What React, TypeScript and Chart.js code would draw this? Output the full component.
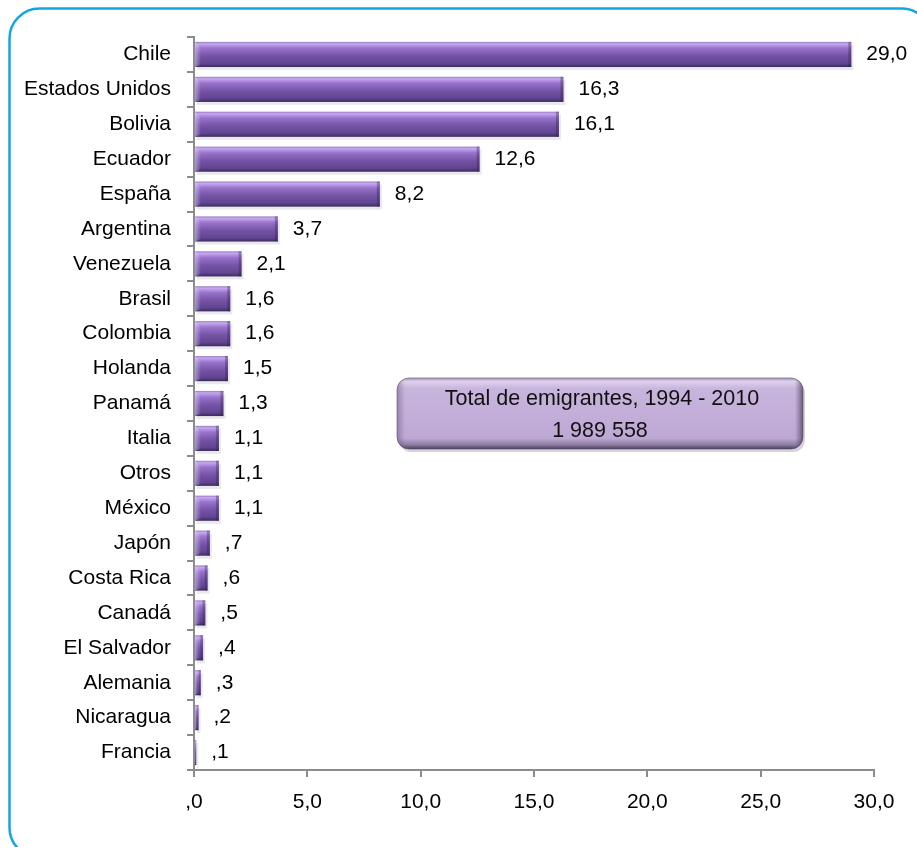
import React, { useEffect, useRef } from "react";
import { Chart, registerables } from "chart.js";

Chart.register(...registerables);

const categories = [
  "Chile", "Estados Unidos", "Bolivia", "Ecuador", "España", "Argentina",
  "Venezuela", "Brasil", "Colombia", "Holanda", "Panamá", "Italia", "Otros",
  "México", "Japón", "Costa Rica", "Canadá", "El Salvador", "Alemania",
  "Nicaragua", "Francia",
];
const values = [
  29.0, 16.3, 16.1, 12.6, 8.2, 3.7, 2.1, 1.6, 1.6, 1.5, 1.3, 1.1, 1.1, 1.1,
  0.7, 0.6, 0.5, 0.4, 0.3, 0.2, 0.1,
];
const xTickLabels = [",0", "5,0", "10,0", "15,0", "20,0", "25,0", "30,0"];
const boxLines = ["Total de emigrantes, 1994 - 2010", "1 989 558"];

const FONT = "'Liberation Sans', Arial, sans-serif";

function fmt(v: number): string {
  let s = v.toFixed(1).replace(".", ",");
  if (s.startsWith("0,")) s = s.slice(1);
  return s;
}

function roundRect(ctx: CanvasRenderingContext2D, x: number, y: number, w: number, h: number, r: number) {
  ctx.beginPath();
  ctx.moveTo(x + r, y);
  ctx.lineTo(x + w - r, y);
  ctx.arcTo(x + w, y, x + w, y + r, r);
  ctx.lineTo(x + w, y + h - r);
  ctx.arcTo(x + w, y + h, x + w - r, y + h, r);
  ctx.lineTo(x + r, y + h);
  ctx.arcTo(x, y + h, x, y + h - r, r);
  ctx.lineTo(x, y + r);
  ctx.arcTo(x, y, x + r, y, r);
  ctx.closePath();
}

const decorPlugin = {
  id: "decor",
  beforeDraw(chart: any) {
    const ctx = chart.ctx as CanvasRenderingContext2D;
    ctx.save();
    ctx.fillStyle = "#ffffff";
    ctx.fillRect(0, 0, chart.width, chart.height);
    ctx.strokeStyle = "#12a6e6";
    ctx.lineWidth = 2.5;
    roundRect(ctx, 9.5, 8.5, 922, 849, 30);
    ctx.stroke();
    ctx.restore();
  },
  afterDatasetsDraw(chart: any) {
    const ctx = chart.ctx as CanvasRenderingContext2D;
    const meta = chart.getDatasetMeta(0);
    ctx.save();
    meta.data.forEach((el: any, i: number) => {
      const x0 = el.base;
      const x1 = el.x;
      const h = el.height;
      const yt = el.y - h / 2;
      const w = x1 - x0;
      if (w <= 0) return;
      // shadow
      ctx.fillStyle = "rgba(120,110,130,0.16)";
      ctx.fillRect(x0 + 2, yt + 3, w, h);
      const g = ctx.createLinearGradient(0, yt, 0, yt + h);
      g.addColorStop(0, "#9a7cc4");
      g.addColorStop(0.08, "#c6a8f0");
      g.addColorStop(0.25, "#9874cc");
      g.addColorStop(0.55, "#7654a6");
      g.addColorStop(0.85, "#614592");
      g.addColorStop(0.93, "#4e3876");
      g.addColorStop(1, "#3a2a58");
      ctx.fillStyle = g;
      ctx.fillRect(x0, yt, w, h);
      // left bevel
      const bw = Math.min(6, w / 2);
      const bg = ctx.createLinearGradient(x0, 0, x0 + bw, 0);
      bg.addColorStop(0, "rgba(230,210,255,0.55)");
      bg.addColorStop(1, "rgba(230,210,255,0)");
      ctx.fillStyle = bg;
      ctx.beginPath();
      ctx.moveTo(x0, yt);
      ctx.lineTo(x0 + bw, yt + bw);
      ctx.lineTo(x0 + bw, yt + h - 2);
      ctx.lineTo(x0, yt + h);
      ctx.closePath();
      ctx.fill();
      // right edge darker
      const rw = Math.min(3, w / 3);
      ctx.fillStyle = "rgba(50,30,80,0.35)";
      ctx.fillRect(x1 - rw, yt, rw, h);
      // value label
      ctx.fillStyle = "#000000";
      ctx.font = `21px ${FONT}`;
      ctx.textAlign = "left";
      ctx.textBaseline = "middle";
      ctx.fillText(fmt(values[i]), x1 + 15, el.y);
    });

    // text box
    const bx = 397, by = 378, bwid = 406, bh = 71;
    ctx.fillStyle = "rgba(90,80,100,0.25)";
    roundRect(ctx, bx + 2, by + 3, bwid, bh, 12);
    ctx.fill();
    const gg = ctx.createLinearGradient(0, by, 0, by + bh);
    gg.addColorStop(0, "#a898bb");
    gg.addColorStop(0.05, "#ddd0ec");
    gg.addColorStop(0.15, "#c8b5dd");
    gg.addColorStop(0.85, "#bda8d4");
    gg.addColorStop(0.94, "#8e7da2");
    gg.addColorStop(1, "#4c3f5c");
    ctx.fillStyle = gg;
    roundRect(ctx, bx, by, bwid, bh, 12);
    ctx.fill();
    // side shading
    const sg = ctx.createLinearGradient(bx, 0, bx + bwid, 0);
    sg.addColorStop(0, "rgba(70,55,90,0.35)");
    sg.addColorStop(0.02, "rgba(70,55,90,0)");
    sg.addColorStop(0.98, "rgba(70,55,90,0)");
    sg.addColorStop(1, "rgba(40,30,55,0.6)");
    ctx.fillStyle = sg;
    ctx.fill();
    ctx.strokeStyle = "rgba(90,75,110,0.6)";
    ctx.lineWidth = 1;
    ctx.stroke();
    ctx.fillStyle = "#111111";
    ctx.font = `21.5px ${FONT}`;
    ctx.textAlign = "center";
    ctx.textBaseline = "middle";
    ctx.fillText(boxLines[0], bx + bwid / 2 + 2, by + 21);
    ctx.fillText(boxLines[1], bx + bwid / 2, by + 53);
    ctx.restore();
  },
};

export default function App() {
  const ref = useRef<HTMLCanvasElement | null>(null);
  useEffect(() => {
    if (!ref.current) return;
    const chart = new Chart(ref.current, {
      type: "bar",
      data: {
        labels: categories,
        datasets: [
          {
            data: values,
            backgroundColor: "rgba(0,0,0,0)",
            borderWidth: 0,
            barPercentage: 0.72,
            categoryPercentage: 1,
          },
        ],
      },
      options: {
        indexAxis: "y",
        responsive: false,
        animation: false,
        layout: { padding: { left: 0, top: 37, right: 43, bottom: 0 } },
        plugins: {
          legend: { display: false },
          tooltip: { enabled: false },
        },
        scales: {
          x: {
            min: 0,
            max: 30,
            ticks: {
              stepSize: 5,
              color: "#000000",
              font: { family: FONT, size: 21 },
              padding: 13,
              callback: (_v: any, i: number) => xTickLabels[i],
            },
            grid: {
              drawOnChartArea: false,
              drawTicks: true,
              tickLength: 7,
              color: "#8c8c8c",
              lineWidth: 2,
            },
            border: { color: "#8c8c8c", width: 2 },
            afterFit: (s: any) => {
              s.height = 77;
            },
          },
          y: {
            ticks: {
              color: "#000000",
              font: { family: FONT, size: 21 },
              padding: 16,
              autoSkip: false,
            },
            grid: {
              drawOnChartArea: false,
              drawTicks: true,
              tickLength: 7,
              color: "#8c8c8c",
              lineWidth: 2,
              offset: true,
            },
            border: { color: "#8c8c8c", width: 2 },
            afterFit: (s: any) => {
              s.width = 194;
            },
          },
        },
      },
      plugins: [decorPlugin],
    });
    return () => chart.destroy();
  }, []);
  return (
    <div style={{ position: "fixed", left: 0, top: 0, width: 917, height: 847 }}>
      <canvas ref={ref} width={917} height={847} style={{ width: 917, height: 847, display: "block" }} />
    </div>
  );
}
